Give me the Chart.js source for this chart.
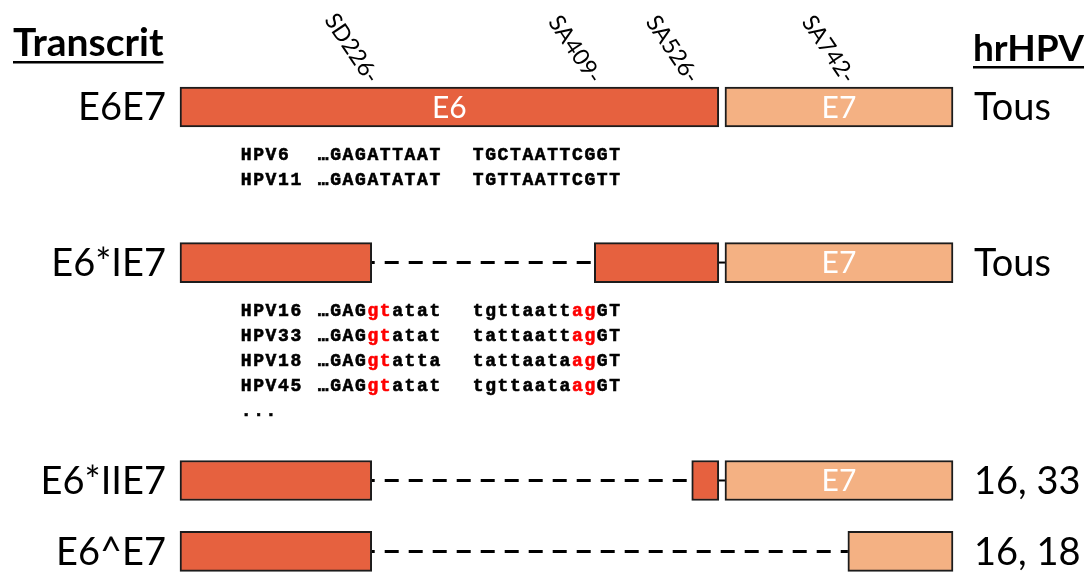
<!DOCTYPE html>
<html>
<head>
<meta charset="utf-8">
<script src="https://cdn.jsdelivr.net/npm/chart.js@4/dist/chart.umd.min.js"></script>
<style>
  html, body { margin: 0; padding: 0; background: #fff; }
  #wrap { width: 1092px; height: 572px; }
</style>
</head>
<body>
<div id="wrap"><canvas id="chart" width="1092" height="572"></canvas></div>
<script>
'use strict';

// ============================================================
// データ（模式図: x = 0〜100 の相対位置, y = 0〜100 の行位置）
// ============================================================
const TRANSCRIPTS = ['E6E7', 'E6*IE7', 'E6*IIE7', 'E6^E7'];
const ROW_Y       = [18.7, 45.9, 84.0, 96.4];
const HR_HPV      = ['Tous', 'Tous', '16, 33', '16, 18'];

// エクソン [行, 開始, 終了, ラベル]
const E6_EXONS = [
  [0, 0, 69.7, 'E6'],
  [1, 0, 24.8, ''],
  [1, 53.6, 69.7, ''],
  [2, 0, 24.8, ''],
  [2, 66.2, 69.7, ''],
  [3, 0, 24.8, ''],
];
const E7_EXONS = [
  [0, 70.5, 100, 'E7'],
  [1, 70.5, 100, 'E7'],
  [2, 70.5, 100, 'E7'],
  [3, 86.4, 100, ''],
];
// イントロン（破線） [行, 開始, 終了]
const INTRONS = [
  [1, 24.8, 53.6],
  [2, 24.8, 66.2],
  [3, 24.8, 86.4],
];
// エクソン間のつなぎ線 [行, 開始, 終了]
const JUNCTIONS = [
  [1, 69.7, 70.5],
  [2, 69.7, 70.5],
];

// スプライス部位
const SPLICE_LABELS = ['SD226-', 'SA409-', 'SA526-', 'SA742-'];
const SPLICE_POS    = [24.8, 53.6, 66.2, 86.4];

// 配列
const SEQ_LOW = [
  ['HPV6',  '…GAGATTAAT', 'TGCTAATTCGGT'],
  ['HPV11', '…GAGATATAT', 'TGTTAATTCGTT'],
];
const SEQ_HIGH = [
  ['HPV16', '…GAGgtatat', 'tgttaattagGT'],
  ['HPV33', '…GAGgtatat', 'tattaattagGT'],
  ['HPV18', '…GAGgtatta', 'tattaataagGT'],
  ['HPV45', '…GAGgtatat', 'tgttaataagGT'],
  ['...', '', ''],
];
const RED_LEFT  = [4, 5];   // gt
const RED_RIGHT = [8, 9];   // ag

// ============================================================
// 色・フォント
// ============================================================
const E6_COLOR = '#E6613F';
const E7_COLOR = '#F4B183';
const EDGE     = '#1c1c1c';
const SANS     = 'Lato, "Open Sans", sans-serif';
const MONO     = '"Liberation Mono", "DejaVu Sans Mono", monospace';

function exonData(list) {
  return list.map(([r, s, e]) => ({ y: ROW_Y[r], x: [s, e] }));
}

function lineData(r, s, e) {
  return [{ x: s, y: ROW_Y[r] }, { x: e, y: ROW_Y[r] }];
}

const datasets = [
  {
    type: 'bar', label: 'E6', indexAxis: 'y',
    data: exonData(E6_EXONS),
    backgroundColor: E6_COLOR, borderColor: EDGE, borderWidth: 2,
    borderSkipped: false, barThickness: 40, grouped: false, clip: false, order: 1,
  },
  {
    type: 'bar', label: 'E7', indexAxis: 'y',
    data: exonData(E7_EXONS),
    backgroundColor: E7_COLOR, borderColor: EDGE, borderWidth: 2,
    borderSkipped: false, barThickness: 40, grouped: false, clip: false, order: 1,
  },
];
INTRONS.forEach(([r, s, e]) => {
  datasets.push({
    type: 'line', label: 'intron', data: lineData(r, s, e),
    borderColor: '#000', borderWidth: 3, borderDash: [14, 10], borderDashOffset: 11,
    pointRadius: 0, fill: false, clip: false, order: 2,
  });
});
JUNCTIONS.forEach(([r, s, e]) => {
  datasets.push({
    type: 'line', label: 'junction', data: lineData(r, s, e),
    borderColor: '#000', borderWidth: 2,
    pointRadius: 0, fill: false, clip: false, order: 2,
  });
});

// ============================================================
// テキスト描画プラグイン
// ============================================================
function drawSeq(ctx, str, x0, y, adv, redIdx) {
  for (let i = 0; i < str.length; i++) {
    const col = redIdx && redIdx.includes(i) ? '#FF0000' : '#000';
    ctx.fillStyle = col;
    ctx.strokeStyle = col;
    const cx = x0 + (i + 0.5) * adv;
    ctx.fillText(str[i], cx, y);
    ctx.strokeText(str[i], cx, y);
  }
}

function underlined(ctx, text, x, y, lineY) {
  ctx.textAlign = 'left';
  ctx.textBaseline = 'alphabetic';
  ctx.fillText(text, x, y);
  const w = ctx.measureText(text).width;
  ctx.fillRect(x, lineY, w, 2.5);
}

const textPlugin = {
  id: 'diagramText',
  afterDraw(chart) {
    const { ctx, scales: { x, y } } = chart;
    ctx.save();

    // 見出し
    ctx.fillStyle = '#000';
    ctx.font = `bold 39px ${SANS}`;
    underlined(ctx, 'Transcrit', 13, 56, 61);
    ctx.font = `bold 37px ${SANS}`;
    underlined(ctx, 'hrHPV', 973, 61, 66);

    // 行ラベル（左・右）
    ctx.font = `38px ${SANS}`;
    ctx.textBaseline = 'middle';
    TRANSCRIPTS.forEach((t, i) => {
      ctx.textAlign = 'right';
      ctx.fillText(t, x.getPixelForValue(0) - 14, y.getPixelForValue(ROW_Y[i]) + 1);
      ctx.textAlign = 'left';
      ctx.fillText(HR_HPV[i], x.getPixelForValue(100) + 21, y.getPixelForValue(ROW_Y[i]) + 1);
    });

    // エクソン内ラベル
    ctx.font = `30px ${SANS}`;
    ctx.fillStyle = '#fff';
    ctx.textAlign = 'center';
    [...E6_EXONS, ...E7_EXONS].forEach(([r, s, e, lab]) => {
      if (!lab) return;
      ctx.fillText(lab, x.getPixelForValue((s + e) / 2), y.getPixelForValue(ROW_Y[r]) + 1);
    });

    // スプライス部位（斜め）
    ctx.fillStyle = '#000';
    ctx.font = `23px ${SANS}`;
    SPLICE_LABELS.forEach((lab, i) => {
      ctx.save();
      ctx.translate(x.getPixelForValue(SPLICE_POS[i]) + 2, 81);
      ctx.rotate(56 * Math.PI / 180);
      ctx.textAlign = 'right';
      ctx.textBaseline = 'middle';
      ctx.fillText(lab, 0, 0);
      ctx.restore();
    });

    // 配列
    ctx.font = `bold 18px ${MONO}`;
    ctx.lineWidth = 0.6;
    ctx.textAlign = 'center';
    ctx.textBaseline = 'middle';
    const adv = 12.4;
    const blocks = [[SEQ_LOW, 0, null, null], [SEQ_HIGH, 1, RED_LEFT, RED_RIGHT]];
    blocks.forEach(([rows, r, redL, redR]) => {
      const base = y.getPixelForValue(ROW_Y[r]) + 49;
      rows.forEach(([name, left, right], k) => {
        const yy = base + k * 25;
        drawSeq(ctx, name, 240, yy, adv, null);
        drawSeq(ctx, left, 317, yy, adv, redL);
        drawSeq(ctx, right, 472, yy, adv, redR);
      });
    });

    ctx.restore();
  },
};

new Chart(document.getElementById('chart'), {
  data: { datasets },
  options: {
    responsive: false,
    animation: false,
    layout: { padding: { left: 180, right: 139, top: 0, bottom: 0 } },
    plugins: { legend: { display: false }, tooltip: { enabled: false } },
    scales: {
      x: { type: 'linear', min: 0, max: 100, display: false, offset: false },
      y: { type: 'linear', min: 0, max: 100, reverse: true, display: false, offset: false },
    },
  },
  plugins: [textPlugin],
});
</script>
</body>
</html>
